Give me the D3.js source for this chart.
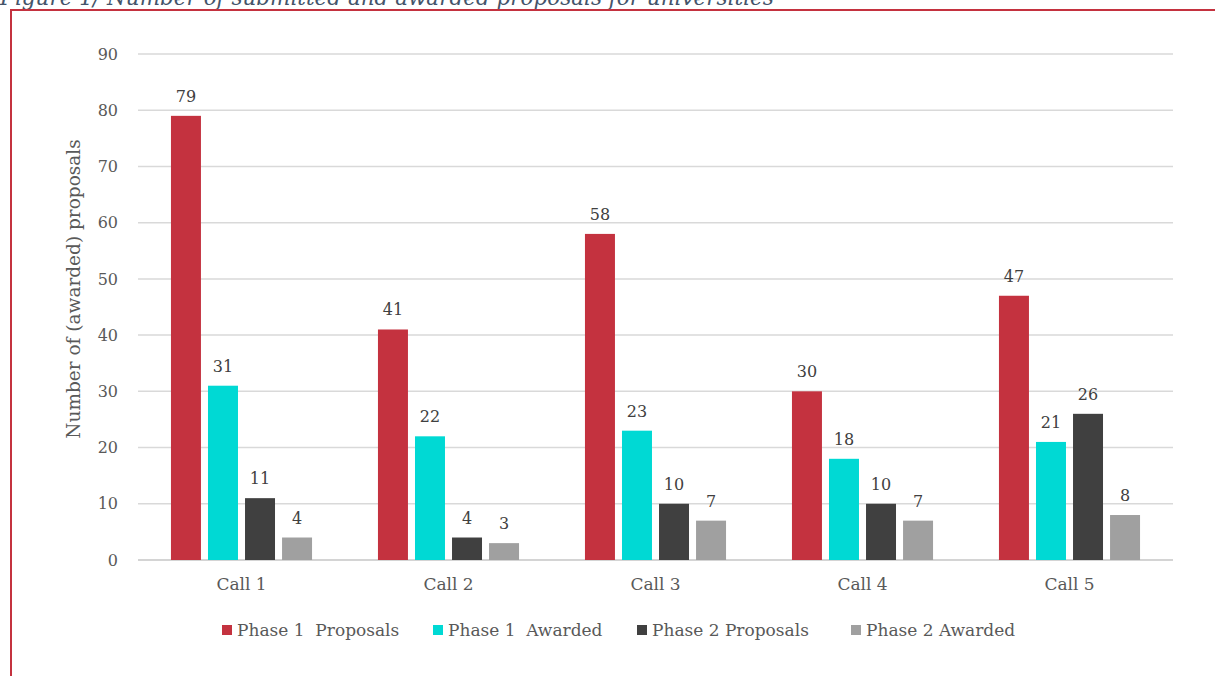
<!DOCTYPE html>
<html>
<head>
<meta charset="utf-8">
<script src="https://cdn.jsdelivr.net/npm/d3@7/dist/d3.min.js"></script>
<style>
  html, body { margin: 0; padding: 0; background: #fff; }
  svg { display: block; }
  text { font-family: Georgia, "DejaVu Serif", "Liberation Serif", serif; }
</style>
</head>
<body>
<svg id="chart" width="1215" height="676"></svg>
<script>
const categories = ["Call 1", "Call 2", "Call 3", "Call 4", "Call 5"];
const seriesNames = ["Phase 1  Proposals", "Phase 1  Awarded", "Phase 2 Proposals", "Phase 2 Awarded"];
const phase1Proposals = [79, 41, 58, 30, 47];
const phase1Awarded = [31, 22, 23, 18, 21];
const phase2Proposals = [11, 4, 10, 10, 26];
const phase2Awarded = [4, 3, 7, 7, 8];
const yTicks = [0, 10, 20, 30, 40, 50, 60, 70, 80, 90];
const colors = ["#C4323F", "#00D9D4", "#404040", "#A0A0A0"];

const series = [phase1Proposals, phase1Awarded, phase2Proposals, phase2Awarded];

const svg = d3.select("#chart");
const W = 1215, H = 676;

// frame and caption
svg.append("text")
  .attr("x", 0).attr("y", 5)
  .attr("font-style", "italic")
  .attr("font-size", 21.5)
  .attr("fill", "#44546A")
  .text("Figure 1/ Number of submitted and awarded proposals for universities");

svg.append("path")
  .attr("d", `M11,${H} L11,10 L${W},10`)
  .attr("fill", "none")
  .attr("stroke", "#C4323F")
  .attr("stroke-width", 2);

const margin = { left: 138, right: 1173, top: 54, bottom: 560 };

const x0 = d3.scaleBand().domain(categories).range([margin.left, margin.right]).paddingInner(0).paddingOuter(0);
const x1 = d3.scaleBand().domain(d3.range(4)).range([0, x0.bandwidth()]).paddingInner(0.19).paddingOuter(0.89);
const y = d3.scaleLinear().domain([0, 90]).range([margin.bottom, margin.top]);

// gridlines
svg.append("g").selectAll("line").data(yTicks).join("line")
  .attr("x1", margin.left).attr("x2", margin.right)
  .attr("y1", d => y(d)).attr("y2", d => y(d))
  .attr("stroke", d => d === 0 ? "#d4d4d4" : "#d9d9d9")
  .attr("stroke-width", d => d === 0 ? 2 : 1.5);

// y axis labels
const yAxis = d3.axisLeft(y).tickValues(yTicks).tickSize(0).tickPadding(0);
const gy = svg.append("g").attr("transform", `translate(${margin.left - 20},0)`).call(yAxis);
gy.select(".domain").remove();
gy.selectAll("text")
  .attr("font-size", 16)
  .attr("fill", "#595959")
  .attr("font-family", 'Georgia, "DejaVu Serif", "Liberation Serif", serif');

// x axis labels
const xAxis = d3.axisBottom(x0).tickSize(0).tickPadding(0);
const gx = svg.append("g").attr("transform", `translate(0,${margin.bottom + 30})`).call(xAxis);
gx.select(".domain").remove();
gx.selectAll("text")
  .attr("font-size", 17)
  .attr("fill", "#595959")
  .attr("dy", 0)
  .attr("font-family", 'Georgia, "DejaVu Serif", "Liberation Serif", serif');

// y axis title
svg.append("text")
  .attr("transform", `translate(80,289) rotate(-90)`)
  .attr("text-anchor", "middle")
  .attr("font-size", 18.5)
  .attr("fill", "#595959")
  .text("Number of (awarded) proposals");

// bars
const groups = svg.append("g").selectAll("g").data(categories).join("g")
  .attr("transform", d => `translate(${x0(d)},0)`);

groups.each(function(cat, ci) {
  const g = d3.select(this);
  series.forEach((vals, si) => {
    const v = vals[ci];
    g.append("rect")
      .attr("x", x1(si))
      .attr("y", y(v))
      .attr("width", x1.bandwidth())
      .attr("height", y(0) - y(v))
      .attr("fill", colors[si]);
    g.append("text")
      .attr("x", x1(si) + x1.bandwidth() / 2)
      .attr("y", y(v) - 14)
      .attr("text-anchor", "middle")
      .attr("font-size", 16)
      .attr("fill", "#404040")
      .text(v);
  });
});

// legend
const legendX = [222, 433, 637, 851];
const legend = svg.append("g").selectAll("g").data(seriesNames).join("g")
  .attr("transform", (d, i) => `translate(${legendX[i]},625)`);
legend.append("rect").attr("width", 10).attr("height", 10).attr("fill", (d, i) => colors[i]);
legend.append("text")
  .attr("x", 15).attr("y", 11)
  .attr("font-size", 17)
  .attr("fill", "#595959")
  .attr("xml:space", "preserve")
  .style("white-space", "pre")
  .text(d => d);
</script>
</body>
</html>
